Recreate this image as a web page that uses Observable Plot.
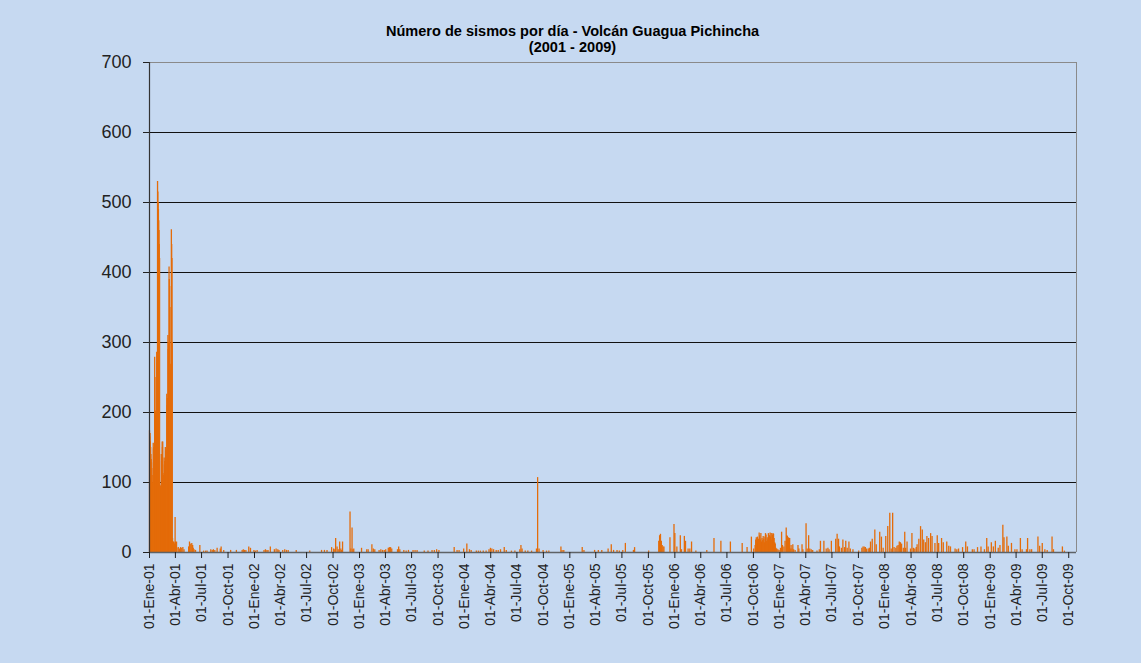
<!DOCTYPE html>
<html>
<head>
<meta charset="utf-8">
<script src="https://cdn.jsdelivr.net/npm/d3@7"></script>
<script src="https://cdn.jsdelivr.net/npm/@observablehq/plot@0.6"></script>
<style>
html, body { margin: 0; padding: 0; background: #c6d9f1; }
#wrap { position: relative; width: 1141px; height: 663px; background: #c6d9f1; overflow: hidden; }
#chart { position: absolute; top: 0; left: 0; }
#title { position: absolute; top: 23px; left: 0; width: 1145px; text-align: center;
  font-family: "Liberation Sans Narrow", "Arial Narrow", "Liberation Sans", Arial, sans-serif;
  font-weight: bold; font-size: 15px; line-height: 16px; color: #000;
  transform: scaleX(0.97); transform-origin: 573px 0; }
</style>
</head>
<body>
<div id="wrap">
  <div id="chart"></div>
  <div id="title">Número de sismos por día - Volcán Guagua Pichincha<br>(2001 - 2009)</div>
</div>
<script>
// Daily counts, 01-Ene-01 onward (eruptive crisis, day 0 = 2001-01-01)
const eruptionCounts = [
  174,165,170,158,150,140, 133,128,120,110, 98,95,100, 156,148,150,140,155,
  279,250, 202,190,200,185,195, 286,270,280, 530,515,500,490, 474,460,440,420,
  96,90,95,85,92, 140,130,135,158, 150,158, 113,105,110,100, 135,125,130,120,
  150,145,140,148,135, 226,210,220,200, 310,290,300,280, 408,390,380,350,
  269,250,260,240, 461,440,420,300, 20,15, 12,15,10,14,8,12,10, 50,
  15,10,12,8,15,6
];

// Later activity: [days since 01-Ene-01, sismos]
const laterActivity = [
  [100,7],[104,5],[108,7],[112,6],[116,7],[120,4],
  [136,8],[139,15],[141,12],[144,11],[147,13],[150,10],[152,6],[155,4],[160,3],
  [175,10],[188,2],[195,2],[200,2],
  [213,4],[218,3],[222,4],[227,3],[235,6],[246,5],[249,8],[258,3],[282,3],[302,3],
  [322,3],[326,4],[330,3],[335,3],[345,8],[351,6],[363,3],[368,2],[374,3],
  [398,3],[403,4],[408,3],[412,3],[420,8],[434,4],[440,5],[446,4],[450,3],
  [463,3],[470,4],[476,3],[482,3],[510,3],[557,2],[598,3],[608,3],[617,3],
  [633,7],[640,5],[644,4],[647,20],[652,8],[656,4],[661,15],[665,5],[668,3],[671,15],
  [697,58],[700,5],[704,35],[707,4],[710,5],[737,6],[755,4],[760,4],[773,11],[778,5],[783,4],
  [798,3],[804,4],[810,3],[816,3],[821,4],[830,6],[834,7],[838,7],[842,5],[862,4],[866,8],[870,4],
  [884,3],[892,2],[900,3],[916,3],[923,3],[930,3],[955,2],[968,2],[982,3],[990,3],[998,4],[1006,3],
  [1059,7],[1069,3],[1076,3],[1092,5],[1103,12],[1112,4],[1118,3],[1136,2],[1143,2],
  [1150,2],[1160,2],[1170,2],[1180,4],[1185,6],[1190,5],[1196,4],[1205,3],[1212,3],[1220,4],[1233,7],[1240,3],
  [1258,2],[1270,2],[1287,4],[1291,10],[1295,5],[1306,2],[1315,2],[1328,2],
  [1345,5],[1349,107],[1354,5],[1368,3],[1380,2],[1388,2],[1430,8],[1434,3],[1440,3],[1504,7],[1510,3],
  [1547,3],[1560,3],[1572,3],[1594,5],[1605,11],[1613,3],[1625,3],[1633,2],[1645,3],[1654,13],[1682,3],[1686,7],[1735,2],
  [1770,16],[1773,24],[1776,26],[1779,16],[1782,10],[1785,8],[1788,8],[1809,21],[1823,40],[1826,27],[1833,8],
  [1845,24],[1849,4],[1859,23],[1863,16],[1872,5],[1878,5],[1884,15],[1899,2],[1937,3],[1962,20],[1986,16],
  [2019,15],[2060,13],[2077,7],[2092,22],[2100,5],
  [2105,10],[2107,18],[2109,21],[2111,16],[2113,22],[2115,14],[2117,19],[2119,28],[2121,24],[2123,18],
  [2125,27],[2127,15],[2129,20],[2131,17],[2133,23],[2135,19],[2137,14],[2139,22],[2141,27],[2143,25],
  [2145,16],[2147,21],[2149,18],[2151,27],[2153,20],[2155,24],[2157,28],[2159,22],[2161,27],[2163,18],
  [2165,25],[2167,27],[2169,26],[2171,20],[2173,14],[2175,12],[2177,6],[2180,5],[2184,4],[2188,3],
  [2193,6],[2197,29],[2200,10],[2205,8],[2209,16],[2213,35],[2215,24],[2217,23],[2219,16],[2221,21],
  [2223,12],[2225,20],[2227,5],[2230,10],[2233,5],[2236,11],[2239,4],[2244,3],
  [2254,10],[2257,5],[2268,11],[2271,4],[2282,41],[2286,5],[2291,24],[2295,5],[2300,4],[2305,3],
  [2320,2],[2328,4],[2332,16],[2344,16],[2352,5],[2358,6],[2362,4],[2370,16],[2385,19],[2390,26],
  [2395,19],[2398,8],[2405,6],[2410,18],[2416,7],[2420,16],[2425,6],[2431,15],[2436,5],[2445,4],[2465,2],
  [2476,6],[2480,8],[2484,8],[2488,7],[2492,5],[2498,5],[2502,6],[2506,15],[2512,19],[2521,32],[2526,11],
  [2538,29],[2544,22],[2550,6],[2559,23],[2566,37],[2573,56],[2578,5],[2583,56],[2588,7],[2594,6],
  [2598,9],[2602,10],[2606,15],[2610,14],[2614,12],[2620,6],[2625,29],[2628,6],[2633,15],[2645,5],
  [2650,27],[2655,6],[2660,5],[2665,7],[2668,11],[2674,19],[2680,37],[2686,32],[2691,18],[2697,14],
  [2702,23],[2708,20],[2715,27],[2720,23],[2730,13],[2738,24],[2743,13],[2753,20],[2759,14],[2771,15],
  [2778,9],[2784,8],
  [2800,5],[2806,4],[2812,5],[2826,7],[2837,15],[2843,8],[2860,4],[2866,4],[2878,7],[2890,8],[2902,4],
  [2910,20],[2915,8],[2926,14],[2933,8],[2940,16],[2950,6],[2956,10],[2966,39],[2970,21],[2980,22],
  [2985,9],[2996,13],[3008,4],[3015,4],[3027,20],[3033,4],[3048,4],[3052,20],[3060,4],[3066,4],
  [3088,22],[3094,9],[3103,13],[3112,4],[3120,3],[3137,22],[3142,4],[3173,8],[3180,2]
];

const yTicks = [0, 100, 200, 300, 400, 500, 600, 700];

const tickLabels = [
  "01-Ene-01","01-Abr-01","01-Jul-01","01-Oct-01",
  "01-Ene-02","01-Abr-02","01-Jul-02","01-Oct-02",
  "01-Ene-03","01-Abr-03","01-Jul-03","01-Oct-03",
  "01-Ene-04","01-Abr-04","01-Jul-04","01-Oct-04",
  "01-Ene-05","01-Abr-05","01-Jul-05","01-Oct-05",
  "01-Ene-06","01-Abr-06","01-Jul-06","01-Oct-06",
  "01-Ene-07","01-Abr-07","01-Jul-07","01-Oct-07",
  "01-Ene-08","01-Abr-08","01-Jul-08","01-Oct-08",
  "01-Ene-09","01-Abr-09","01-Jul-09","01-Oct-09"
];

const seriesStart = new Date(Date.UTC(2001, 0, 1));
const axisEndDay = 3222;

const dayToDate = i => d3.utcDay.offset(seriesStart, i);
const rows = [
  ...eruptionCounts.map((n, i) => ({date: dayToDate(i), n})),
  ...laterActivity.map(([d, n]) => ({date: dayToDate(d), n}))
];

const monthIndex = {Ene:0, Feb:1, Mar:2, Abr:3, May:4, Jun:5, Jul:6, Ago:7, Sep:8, Oct:9, Nov:10, Dic:11};
const tickDates = tickLabels.map(s => {
  const [dd, mm, yy] = s.split("-");
  return new Date(Date.UTC(2000 + (+yy), monthIndex[mm], +dd));
});
const labelByTime = new Map(tickDates.map((d, i) => [+d, tickLabels[i]]));
const endDate = dayToDate(axisEndDay);

const chart = Plot.plot({
  width: 1141,
  height: 663,
  marginLeft: 149,
  marginRight: 65,
  marginTop: 62,
  marginBottom: 111,
  style: {background: "transparent", fontFamily: "'Liberation Sans', Arial, sans-serif", color: "#222"},
  x: {type: "utc", domain: [seriesStart, endDate]},
  y: {domain: [0, 700]},
  marks: [
    Plot.ruleY(yTicks.filter(v => v > 0 && v < 700), {stroke: "#111", strokeWidth: 1}),
    Plot.ruleX(rows, {x: "date", y1: 0, y2: "n", stroke: "#e46c0a", strokeWidth: 1.3}),
    Plot.ruleY([700], {stroke: "#8a8a8a", strokeWidth: 1}),
    Plot.ruleX([endDate], {stroke: "#8a8a8a", strokeWidth: 1}),
    Plot.ruleY([0], {stroke: "#5e6266", strokeWidth: 1.6}),
    Plot.ruleX([seriesStart], {stroke: "#333", strokeWidth: 1.2}),
    Plot.axisY({ticks: yTicks, tickSize: 6, tickPadding: 12, fontSize: 18, label: null, stroke: "#222"}),
    Plot.axisX({ticks: tickDates, tickFormat: d => labelByTime.get(+d), tickRotate: -90,
      tickSize: 6, tickPadding: 5, fontSize: 14, label: null, stroke: "#222"})
  ]
});
document.getElementById("chart").appendChild(chart);
</script>
</body>
</html>
